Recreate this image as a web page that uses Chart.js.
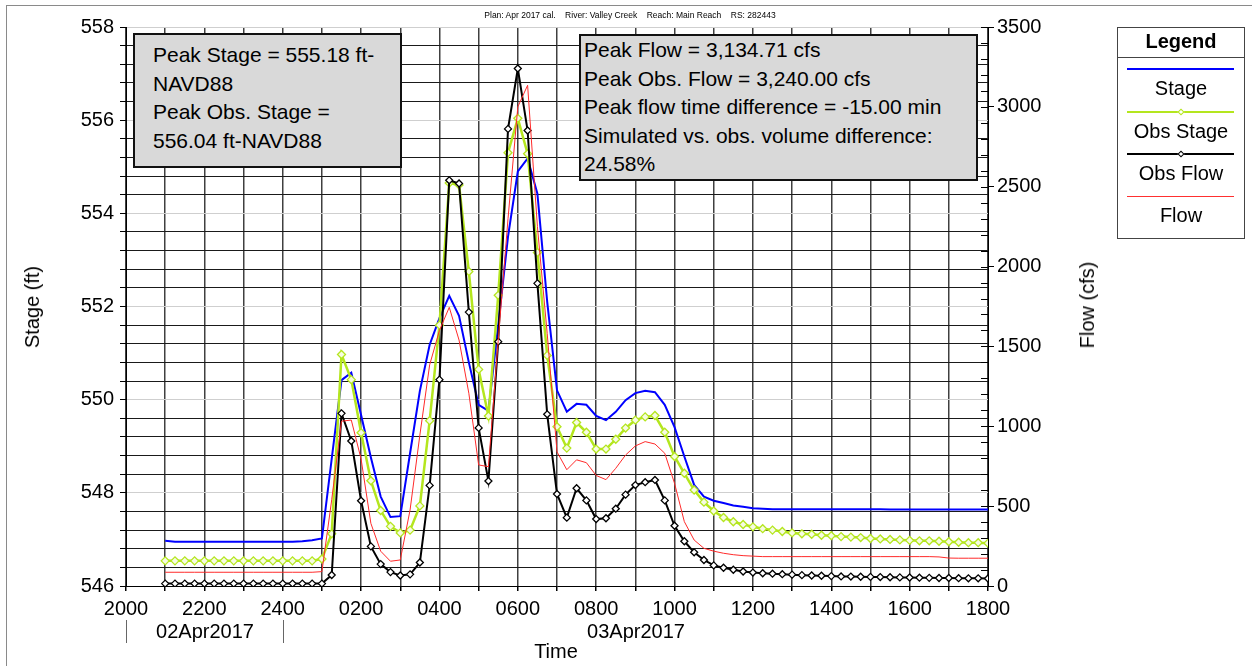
<!DOCTYPE html>
<html>
<head>
<meta charset="utf-8">
<title>Stage and Flow - Valley Creek RS 282443</title>
<script src="https://cdn.jsdelivr.net/npm/chart.js@4.4.1/dist/chart.umd.min.js"></script>
<style>
  body { margin: 0; background: #fff; }
  #wrap { position: relative; width: 1252px; height: 666px; overflow: hidden;
          font-family: "Liberation Sans", Arial, sans-serif; color: #000; }
  #chart { position: absolute; left: 0; top: 0; }
  .t { position: absolute; white-space: pre; line-height: 1; }
  .c { transform: translate(-50%, -50%); }
  .box { position: absolute; background: #d9d9d9; border: 2px solid #111; box-sizing: border-box;
         font-size: 21px; line-height: 28.5px; white-space: pre; }
  .frame { position: absolute; left: 6px; top: 5px; width: 1400px; height: 800px;
           border-top: 1px solid #8a8a8a; border-left: 1px solid #8a8a8a; }
  .ln { position: absolute; }
  .dia { position: absolute; width: 5px; height: 5px; transform: translate(-50%, -50%) rotate(45deg);
         background: #fff; box-sizing: border-box; }
</style>
</head>
<body>
<div id="wrap">
  <div class="frame"></div>
  <canvas id="chart" width="1252" height="666"></canvas>

  <!-- header line -->
  <div class="t c" style="left:630px; top:15px; font-size:8.5px;">Plan: Apr 2017 cal.    River: Valley Creek    Reach: Main Reach    RS: 282443</div>

  <!-- info boxes -->
  <div class="box" style="left:133px; top:33px; width:269px; height:135px; padding:6px 0 0 18px;">Peak Stage = 555.18 ft-
NAVD88
Peak Obs. Stage =
556.04 ft-NAVD88</div>
  <div class="box" style="left:579px; top:34px; width:399px; height:147px; padding:0 0 0 3px;">Peak Flow = 3,134.71 cfs
Peak Obs. Flow = 3,240.00 cfs
Peak flow time difference = -15.00 min
Simulated vs. obs. volume difference:
24.58%</div>

  <!-- legend -->
  <div class="ln" style="left:1117px; top:27px; width:128px; height:212px; border:1px solid #444; box-sizing:border-box;"></div>
  <div class="t c" style="left:1181px; top:41px; font-size:20px; font-weight:bold;">Legend</div>
  <div class="ln" style="left:1117px; top:57px; width:128px; height:1px; background:#444;"></div>
  <div class="ln" style="left:1127px; top:68px; width:107px; height:2px; background:#0000ff;"></div>
  <div class="t c" style="left:1181px; top:88px; font-size:20px;">Stage</div>
  <div class="ln" style="left:1127px; top:111px; width:107px; height:2px; background:#b4e61e;"></div>
  <div class="dia" style="left:1181px; top:112px; border:1.5px solid #b4e61e;"></div>
  <div class="t c" style="left:1181px; top:131px; font-size:20px;">Obs Stage</div>
  <div class="ln" style="left:1127px; top:153px; width:107px; height:2px; background:#000;"></div>
  <div class="dia" style="left:1181px; top:154px; border:1.5px solid #000;"></div>
  <div class="t c" style="left:1181px; top:173px; font-size:20px;">Obs Flow</div>
  <div class="ln" style="left:1127px; top:196px; width:107px; height:1px; background:#ff3030;"></div>
  <div class="t c" style="left:1181px; top:215px; font-size:20px;">Flow</div>

  <!-- axis titles and date labels -->
  <div class="t c" style="left:32px; top:307px; font-size:20px; transform:translate(-50%,-50%) rotate(-90deg);">Stage (ft)</div>
  <div class="t c" style="left:1087px; top:305px; font-size:20px; transform:translate(-50%,-50%) rotate(-90deg);">Flow (cfs)</div>
  <div class="ln" style="left:126px; top:620px; width:1px; height:23px; background:#666;"></div>
  <div class="ln" style="left:283px; top:620px; width:1px; height:23px; background:#666;"></div>
  <div class="t c" style="left:205px; top:631px; font-size:20px;">02Apr2017</div>
  <div class="t c" style="left:636px; top:631px; font-size:20px;">03Apr2017</div>
  <div class="t c" style="left:556px; top:651px; font-size:20px;">Time</div>
</div>

<script>
// time stamps (02Apr2017 2100 .. 03Apr2017 1800), 15 minute steps
const times = [
  '2100','2115','2130','2145', '2200','2215','2230','2245', '2300','2315','2330','2345',
  '2400','0015','0030','0045', '0100','0115','0130','0145', '0200','0215','0230','0245',
  '0300','0315','0330','0345', '0400','0415','0430','0445', '0500','0515','0530','0545',
  '0600','0615','0630','0645', '0700','0715','0730','0745', '0800','0815','0830','0845',
  '0900','0915','0930','0945', '1000','1015','1030','1045', '1100','1115','1130','1145',
  '1200','1215','1230','1245', '1300','1315','1330','1345', '1400','1415','1430','1445',
  '1500','1515','1530','1545', '1600','1615','1630','1645', '1700','1715','1730','1745',
  '1800'
];

// simulated stage (ft)
const stage = [
  546.97,546.95,546.95,546.95, 546.95,546.95,546.95,546.95, 546.95,546.95,546.95,546.95,
  546.95,546.95,546.96,546.98, 547.02,548.73,550.42,550.58, 549.67,548.76,547.92,547.48,
  547.50,548.85,550.19,551.18, 551.75,552.23,551.80,550.80, 549.89,549.76,551.60,553.50,
  554.90,555.18,554.42,552.10, 550.20,549.74,549.91,549.89, 549.65,549.56,549.74,549.99,
  550.14,550.19,550.16,549.89, 549.41,548.78,548.17,547.92, 547.83,547.78,547.73,547.70,
  547.67,547.66,547.65,547.65, 547.65,547.65,547.65,547.65, 547.65,547.65,547.65,547.65,
  547.65,547.65,547.64,547.64, 547.64,547.64,547.64,547.64, 547.64,547.64,547.64,547.64,
  547.64
];

// observed stage (ft)
const obsStage = [
  546.54,546.54,546.54,546.54, 546.54,546.54,546.54,546.54, 546.54,546.54,546.54,546.54,
  546.54,546.54,546.54,546.54, 546.58,547.12,550.97,550.43, 549.29,548.26,547.62,547.28,
  547.14,547.20,547.72,549.55, 551.60,554.65,554.61,552.75, 550.65,549.65,552.24,555.30,
  556.04,555.28,553.16,550.95, 549.42,548.96,549.51,549.30, 548.94,548.94,549.15,549.39,
  549.56,549.63,549.66,549.30, 548.78,548.42,548.06,547.80, 547.61,547.47,547.38,547.32,
  547.27,547.23,547.20,547.17, 547.14,547.12,547.11,547.09, 547.08,547.06,547.05,547.04,
  547.02,547.01,547.00,546.99, 546.98,546.97,546.97,546.96, 546.95,546.94,546.93,546.93,
  546.92
];

// observed flow (cfs)
const obsFlow = [
  15,15,15,15, 15,15,15,15, 15,15,15,15,
  15,15,15,15, 15,69,1081,908, 534,248,137,87,
  66,73,147,630, 1292,2540,2520,1715, 990,657,1530,2862,
  3240,2852,1895,1075, 576,428,612,536, 419,424,484,572,
  632,650,664,536, 377,280,211,163, 129,114,102,91,
  84,80,77,74, 71,68,66,64, 62,60,59,58,
  57,56,55,54, 53,52,51,50, 50,49,48,48,
  47
];

// simulated flow (cfs)
const flow = [
  86,86,86,86, 86,86,86,86, 86,86,86,86,
  86,86,86,86, 90,540,1032,1039, 795,392,218,155,
  163,476,945,1385, 1600,1745,1540,1207, 758,747,1538,2300,
  3000,3135,2250,1580, 840,728,790,772, 692,666,737,820,
  877,904,889,831, 643,403,288,236, 218,205,196,190,
  187,184,184,184, 184,184,184,184, 184,184,184,184,
  184,184,184,184, 184,184,184,182, 175,174,174,174,
  174
];

// axis labels
const xTickLabels = ['2000','2200','2400','0200','0400','0600','0800','1000','1200','1400','1600','1800'];
const stageLabels = [546, 548, 550, 552, 554, 556, 558];
const flowLabels = [0, 500, 1000, 1500, 2000, 2500, 3000, 3500];

const FONT = '"Liberation Sans", Arial, sans-serif';

// hours after 02Apr2017 2000
function toHours(s) {
    const h = parseInt(s.slice(0, 2), 10) + parseInt(s.slice(2), 10) / 60;
    return h >= 20 ? h - 20 : h + 4;
}
const xs = times.map(toHours);
const pts = vals => vals.map((v, i) => ({ x: xs[i], y: v }));

const isMajorStage = v => stageLabels.some(l => Math.abs(l - v) < 1e-6);

// short inward tick marks on the flow axis
const innerTicks = {
    id: 'innerTicks',
    afterDraw(chart) {
        const s = chart.scales.y1;
        const ctx = chart.ctx;
        ctx.save();
        ctx.strokeStyle = '#000';
        ctx.lineWidth = 1;
        ctx.beginPath();
        s.ticks.forEach(t => {
            const y = Math.round(s.getPixelForValue(t.value)) + 0.5;
            ctx.moveTo(s.left - 7, y);
            ctx.lineTo(s.left, y);
        });
        ctx.stroke();
        ctx.restore();
    }
};

new Chart(document.getElementById('chart'), {
    type: 'line',
    data: {
        datasets: [
            { label: 'Flow', data: pts(flow), yAxisID: 'y1', borderColor: '#ff2a2a', borderWidth: 1,
              pointRadius: 0 },
            { label: 'Obs Flow', data: pts(obsFlow), yAxisID: 'y1', borderColor: '#000', borderWidth: 2,
              pointStyle: 'rectRot', pointRadius: 3.5, pointBorderWidth: 1.3,
              pointBackgroundColor: '#fff', pointBorderColor: '#000' },
            { label: 'Obs Stage', data: pts(obsStage), yAxisID: 'y', borderColor: '#b4e61e', borderWidth: 2.5,
              pointStyle: 'rectRot', pointRadius: 4, pointBorderWidth: 1.3,
              pointBackgroundColor: '#f6fbe2', pointBorderColor: '#b4e61e' },
            { label: 'Stage', data: pts(stage), yAxisID: 'y', borderColor: '#0000ff', borderWidth: 2,
              pointRadius: 0 }
        ]
    },
    options: {
        responsive: false,
        animation: false,
        devicePixelRatio: 1,
        layout: { padding: { top: 27, left: 0, right: 0, bottom: 0 } },
        elements: { line: { tension: 0 } },
        plugins: { legend: { display: false }, tooltip: { enabled: false } },
        scales: {
            x: {
                type: 'linear', min: 0, max: 22,
                afterFit: s => { s.height = 80; },
                afterBuildTicks: s => {
                    const t = [];
                    for (let h = 0; h <= 22; h++) t.push({ value: h });
                    s.ticks = t;
                },
                ticks: {
                    autoSkip: false, maxRotation: 0, padding: 6, color: '#000',
                    font: { family: FONT, size: 20 },
                    callback: v => (v % 2 === 0 ? xTickLabels[v / 2] : '')
                },
                grid: { color: '#404040', lineWidth: 1.5, tickLength: 5, tickColor: '#000' },
                border: { color: '#000', width: 1 }
            },
            y: {
                position: 'left', min: 546, max: 558,
                afterFit: s => { s.width = 126; },
                afterBuildTicks: s => {
                    const t = [];
                    for (let k = 0; k <= 30; k++) t.push({ value: +(546 + k * 0.4).toFixed(1) });
                    s.ticks = t;
                },
                ticks: {
                    autoSkip: false, padding: 6, color: '#000',
                    font: { family: FONT, size: 20 },
                    callback: v => (isMajorStage(v) ? String(Math.round(v)) : '')
                },
                grid: {
                    color: ctx => (isMajorStage(ctx.tick.value) ? '#cfcfcf' : '#1a1a1a'),
                    lineWidth: 1, tickLength: 6, tickColor: '#000'
                },
                border: { color: '#000', width: 1 }
            },
            y1: {
                position: 'right', min: 0, max: 3500,
                afterFit: s => { s.width = 264; },
                afterBuildTicks: s => {
                    const t = [];
                    for (let q = 0; q <= 3500; q += 100) t.push({ value: q });
                    s.ticks = t;
                },
                ticks: {
                    autoSkip: false, padding: 3, color: '#000',
                    font: { family: FONT, size: 20 },
                    callback: v => (flowLabels.includes(v) ? String(v) : '')
                },
                grid: {
                    drawOnChartArea: false, tickLength: 6,
                    tickColor: ctx => (flowLabels.includes(ctx.tick.value) ? '#000' : 'rgba(0,0,0,0)')
                },
                border: { color: '#000', width: 1 }
            }
        }
    },
    plugins: [innerTicks]
});
</script>
</body>
</html>
